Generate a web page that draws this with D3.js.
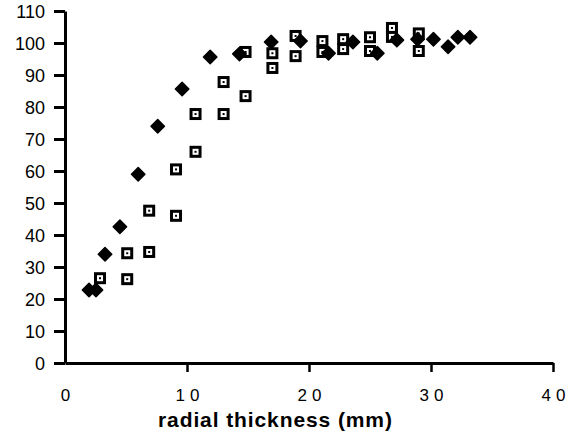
<!DOCTYPE html>
<html>
<head>
<meta charset="utf-8">
<script src="https://cdn.jsdelivr.net/npm/d3@7"></script>
<style>
  body { margin: 0; background: #fff; }
  text { font-family: "Liberation Sans", Arial, Helvetica, sans-serif; fill: #000; }
</style>
</head>
<body>
<div id="chart"></div>
<script>
// filled diamonds
var diamondX = [1.97, 2.54, 3.28, 4.5, 6.0, 7.6, 9.6, 11.9, 14.3, 16.9, 19.3, 21.6, 23.6, 25.6, 27.2, 28.9, 30.2, 31.4, 32.2, 33.2];
var diamondY = [22.8, 22.8, 34.0, 42.6, 59.0, 74.0, 85.6, 95.6, 96.6, 100.3, 100.6, 96.8, 100.3, 96.8, 100.9, 101.2, 101.2, 98.8, 101.8, 101.8];

// open squares with centre dot
var squareX = [2.87, 5.1, 5.1, 6.9, 6.9, 9.1, 9.1, 10.7, 10.7, 13.0, 13.0, 14.8, 14.8, 17.0, 17.0, 18.9, 18.9, 21.1, 21.1, 22.8, 22.8, 25.0, 25.0, 26.8, 26.8, 29.0, 29.0];
var squareY = [26.5, 26.2, 34.3, 34.7, 47.6, 46.0, 60.5, 66.0, 77.8, 77.8, 87.8, 83.4, 97.2, 96.8, 92.2, 102.2, 95.9, 100.6, 97.2, 101.2, 98.1, 101.8, 97.5, 104.7, 101.9, 103.0, 97.5];

var xTicks = [0, 10, 20, 30, 40];
var yTicks = [0, 10, 20, 30, 40, 50, 60, 70, 80, 90, 100, 110];
var xTitle = "radial thickness (mm)";

var W = 577, H = 435;
var svg = d3.select("#chart").append("svg")
  .attr("width", W)
  .attr("height", H);

var x = d3.scaleLinear().domain([0, 40]).range([65, 553]);
var y = d3.scaleLinear().domain([0, 110]).range([363, 11]);

// y axis
var yAxis = svg.append("g")
  .attr("transform", "translate(" + x(0) + ",0)")
  .call(d3.axisLeft(y).tickValues(yTicks).tickSize(11).tickSizeOuter(0).tickPadding(9));
yAxis.select(".domain").attr("stroke", "#000").attr("stroke-width", 3);
yAxis.selectAll(".tick line").attr("stroke", "#000").attr("stroke-width", 3);
yAxis.selectAll(".tick text")
  .style("font-size", "18px")
  .attr("dy", "0.36em");

// x axis
var xAxis = svg.append("g")
  .attr("transform", "translate(0," + y(0) + ")")
  .call(d3.axisBottom(x).tickValues(xTicks).tickSize(9).tickSizeOuter(0).tickPadding(17));
xAxis.select(".domain").attr("stroke", "#000").attr("stroke-width", 3);
xAxis.selectAll(".tick line").attr("stroke", "#000").attr("stroke-width", 2.5);
xAxis.selectAll(".tick text")
  .style("font-size", "17px")
  .style("letter-spacing", "5px")
  .attr("dx", "2.5px");
// the origin tick sits on the y axis
xAxis.selectAll(".tick").filter(function(d) { return d === 0; }).select("line").remove();

svg.append("text")
  .attr("x", 158)
  .attr("y", 427)
  .style("font-size", "21px")
  .style("font-weight", "bold")
  .style("letter-spacing", "0.9px")
  .text(xTitle);

// squares first, diamonds drawn over them
var sq = svg.append("g").selectAll("g")
  .data(d3.range(squareX.length))
  .join("g")
  .attr("transform", function(i) { return "translate(" + x(squareX[i]) + "," + y(squareY[i]) + ")"; });
sq.append("rect")
  .attr("x", -6).attr("y", -6)
  .attr("width", 12).attr("height", 12)
  .attr("fill", "#000");
sq.append("rect")
  .attr("x", -3).attr("y", -3)
  .attr("width", 6).attr("height", 6)
  .attr("fill", "#fff");
sq.append("rect")
  .attr("x", -1).attr("y", -1)
  .attr("width", 2).attr("height", 2)
  .attr("fill", "#000");

var diamond = d3.symbol().type(d3.symbolDiamond2).size(115);
svg.append("g").selectAll("path")
  .data(d3.range(diamondX.length))
  .join("path")
  .attr("d", diamond)
  .attr("transform", function(i) { return "translate(" + x(diamondX[i]) + "," + y(diamondY[i]) + ")"; })
  .attr("fill", "#000")
  .attr("stroke", "#000")
  .attr("stroke-width", 1.5)
  .attr("stroke-linejoin", "round");
</script>
</body>
</html>
